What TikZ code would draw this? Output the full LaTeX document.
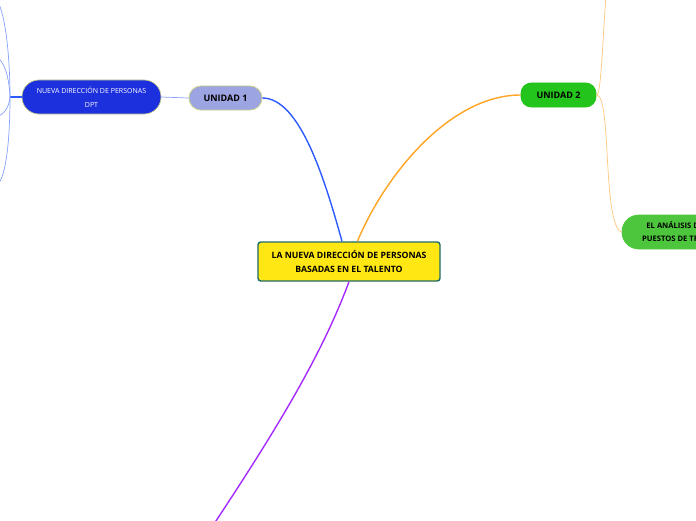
\documentclass[tikz,border=0pt]{standalone}
\usepackage{fontspec}
\setmainfont{Open Sans}
\usepackage{xcolor}
\usetikzlibrary{arrows.meta,shapes}
\definecolor{amarillo}{HTML}{FFE714}
\definecolor{borde}{HTML}{1E6B6B}
\definecolor{lila}{HTML}{9CA4E2}
\definecolor{azul}{HTML}{1C30DE}
\definecolor{verde}{HTML}{23C41B}
\definecolor{verdeb}{HTML}{4DC63D}
\definecolor{oliva}{HTML}{C9D08C}
\definecolor{lazul}{HTML}{2D5BFF}
\definecolor{lazulc}{HTML}{86A2FF}
\definecolor{lnaranja}{HTML}{FFA423}
\definecolor{lnaranjac}{HTML}{FFC67E}
\definecolor{lmorado}{HTML}{A52BFF}
\tikzset{
tema/.style={draw=borde,line width=1pt,fill=amarillo,rounded corners=2pt,minimum width=4.55cm,minimum height=0.975cm,align=center,font=\fontsize{6.2}{9.3}\selectfont\bfseries,inner sep=0pt},
unidad/.style={draw=oliva,line width=0.6pt,rounded corners=0.3cm,minimum height=0.6cm,inner sep=0pt,font=\fontsize{6.4}{8}\selectfont\bfseries},
subtema/.style={draw=oliva,line width=0.5pt,rounded corners=0.42cm,minimum height=0.85cm,inner sep=0pt,align=center},
rama/.style={line width=1pt},
ramita/.style={line width=0.5pt}
}
\begin{document}
\begin{tikzpicture}[x=0.025cm,y=-0.025cm,=>stealth]
\useasboundingbox(0,0)rectangle(696,520);
\clip(0,0)rectangle(696,520);
\node[tema](centro)at(349,261.5){LA NUEVA DIRECCIÓN DE PERSONAS\\BASADAS EN EL TALENTO};
\node[unidad,fill=lila,minimum width=1.825cm](u1)at(225.5,98){UNIDAD 1};
\node[unidad,fill=verde,draw=verde,rounded corners=0.26cm,minimum width=1.875cm](u2)at(558.5,95){UNIDAD 2};
\node[subtema,fill=azul,minimum width=3.475cm,text=white,font=\fontsize{5}{9.8}\selectfont](dpt)at(91.5,97){NUEVA DIRECCIÓN DE PERSONAS\\DPT};
\node[subtema,fill=verdeb,draw=verdeb,minimum width=3.05cm,font=\fontsize{5.4}{9.2}\selectfont\bfseries](analisis)at(683,232){EL ANÁLISIS DE LOS\\PUESTOS DE TRABAJO};
\coordinate(j1)at(10,97);
\coordinate(h1)at(-3,0);
\coordinate(h2)at(-3,57);
\coordinate(h3)at(-3,117);
\coordinate(h4)at(-3,185);
\coordinate(u2a)at(606,-5);
\coordinate(u3)at(200,545);
\draw[rama,lazul](u1.east)..controls(300,98)and(325,180)..([xshift=-5pt]centro.north);
\draw[rama,lnaranja]([xshift=6pt]centro.north)..controls(385,175)and(450,95)..(u2.west);
\draw[rama,lmorado](centro.south)..controls(320,360)and(270,440)..(u3);
\draw[ramita,lazulc](u1.west)--(dpt.east);
\draw[line width=0.8pt,lazul](dpt.west)--(j1);
\draw[ramita,lazulc](j1)..controls(10,60)and(6,15)..(h1);
\draw[ramita,lazulc](j1)..controls(9,75)and(4,62)..(h2);
\draw[ramita,lazulc](j1)..controls(9,108)and(4,114)..(h3);
\draw[ramita,lazulc](j1)..controls(10,140)and(6,178)..(h4);
\draw[ramita,lnaranjac](u2.east)..controls(601,95)and(602,50)..(u2a);
\draw[ramita,lnaranjac](u2.east)..controls(612,95)and(602,225)..(analisis.west);
\end{tikzpicture}
\end{document}
